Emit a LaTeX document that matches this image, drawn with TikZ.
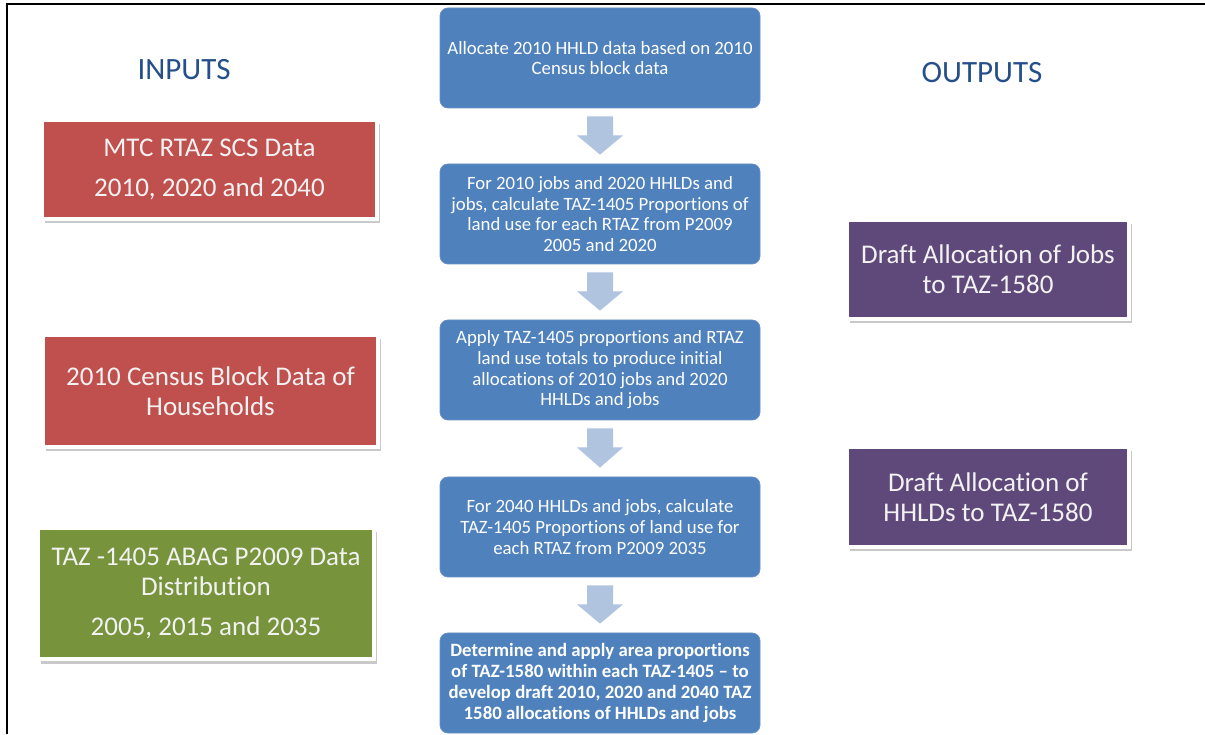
\documentclass[tikz,border=0pt]{standalone}
\usepackage{fontspec}
\setmainfont{Carlito}[Ligatures={NoCommon}]
\usetikzlibrary{calc,shadows}
\definecolor{bluebox}{HTML}{4F81BD}
\definecolor{blueedge}{HTML}{6990C6}
\definecolor{arrowc}{HTML}{B0C3DF}
\definecolor{redbox}{HTML}{C0504D}
\definecolor{greenbox}{HTML}{77933C}
\definecolor{purplebox}{HTML}{5F497A}
\definecolor{headc}{HTML}{254F8A}
\newcommand{\blkarrow}[2]{\fill[arrowc] ($(#1.south)+(-13,-8)$) -- ($(#1.south)+(13,-8)$) -- ($(#1.south)+(13,-27)$) -- ($(#1.south)+(23,-27)$) -- ($(#2.north)+(0,9)$) -- ($(#1.south)+(-23,-27)$) -- ($(#1.south)+(-13,-27)$) -- cycle;}
\begin{document}
\begin{tikzpicture}[x=1pt,y=1pt,
 stepbox/.style={rectangle, rounded corners=8pt, fill=bluebox, draw=blueedge, line width=0.8pt, minimum width=320pt, minimum height=100pt, inner sep=0pt, align=center, text=white, font=\fontsize{18.8}{20.7}\selectfont},
 inbox/.style={rectangle, draw=white, line width=4pt, inner sep=0pt, align=center, text=white!95!black, font=\fontsize{27}{30}\selectfont, drop shadow={shadow xshift=2.5pt, shadow yshift=-4.5pt, opacity=0.35, fill=black!60}},
 heading/.style={text=headc, font=\fontsize{31}{36}\selectfont, anchor=base}]
\useasboundingbox (0,0) rectangle (1205,734);
\fill[white] (0,0) rectangle (1205,734);
% frame lines
\draw[line width=1.3pt] (7,0) -- (7,730) -- (1205,730);
% headings
\node[heading] (inputs) at (184,654) {INPUTS};
\node[heading] (outputs) at (982,651) {OUTPUTS};
% central process
\node[stepbox] (b1) at (600,676) {Allocate 2010 HHLD data based on 2010\\Census block data};
\node[stepbox] (b2) at (600,520) {For 2010 jobs and 2020 HHLDs and\\jobs, calculate TAZ-1405 Proportions of\\land use for each RTAZ from P2009\\2005 and 2020};
\node[stepbox] (b3) at (600,364) {Apply TAZ-1405 proportions and RTAZ\\land use totals to produce initial\\allocations of 2010 jobs and 2020\\HHLDs and jobs};
\node[stepbox] (b4) at (600,207) {For 2040 HHLDs and jobs, calculate\\TAZ-1405 Proportions of land use for\\each RTAZ from P2009 2035};
\node[stepbox, font=\fontsize{18.8}{20.7}\selectfont\bfseries] (b5) at (600,51) {Determine and apply area proportions\\of TAZ-1580 within each TAZ-1405 -- to\\develop draft 2010, 2020 and 2040 TAZ\\1580 allocations of HHLDs and jobs};
\blkarrow{b1}{b2}
\blkarrow{b2}{b3}
\blkarrow{b3}{b4}
\blkarrow{b4}{b5}
% inputs
\node[inbox, fill=redbox, minimum width=335pt, minimum height=99pt] (mtc) at (209.5,564.5) {MTC RTAZ SCS Data\\[10pt]2010, 2020 and 2040};
\node[inbox, fill=redbox, minimum width=335pt, minimum height=112pt] (census) at (210.5,343) {2010 Census Block Data of\\Households};
\node[inbox, fill=greenbox, minimum width=336pt, minimum height=131pt] (taz) at (206,140.5) {TAZ -1405 ABAG P2009 Data\\Distribution\\[10pt]2005, 2015 and 2035};
% outputs
\node[inbox, fill=purplebox, minimum width=282pt, minimum height=99pt] (jobs) at (988,464.5) {Draft Allocation of Jobs\\to TAZ-1580};
\node[inbox, fill=purplebox, minimum width=282pt, minimum height=100pt] (hhld) at (988,237) {Draft Allocation of\\HHLDs to TAZ-1580};
\end{tikzpicture}
\end{document}
